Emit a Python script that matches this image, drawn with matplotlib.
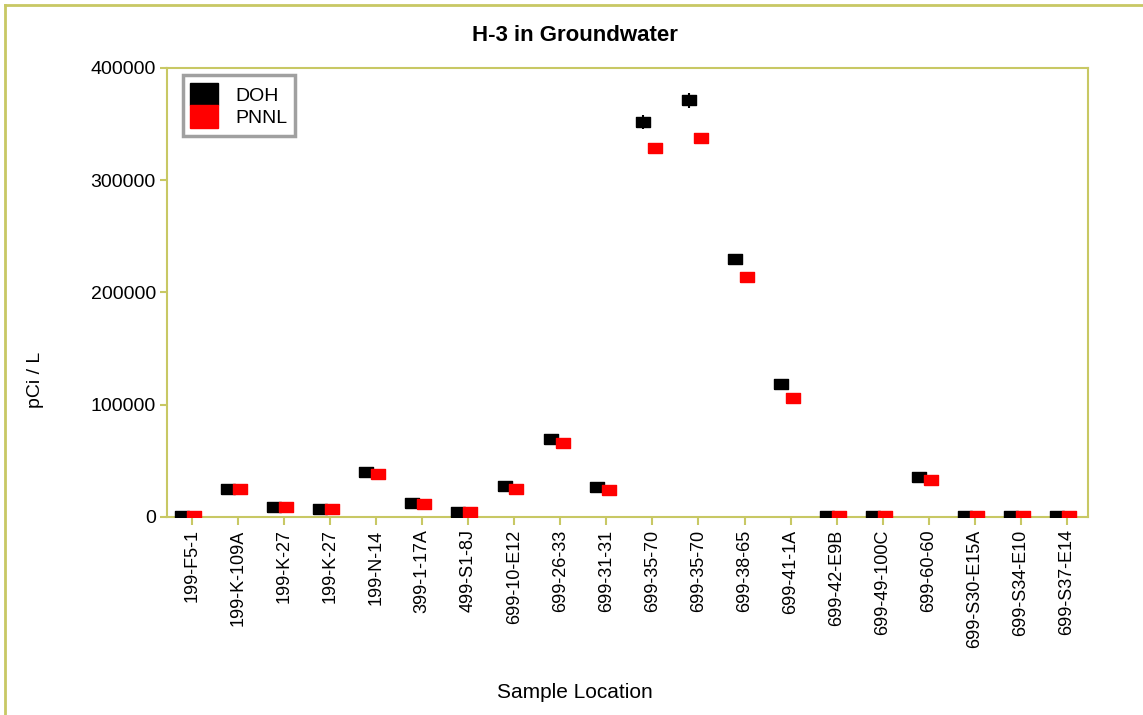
import numpy as np
import matplotlib.pyplot as plt
from matplotlib.lines import Line2D
from matplotlib.patches import Patch

plt.rcParams['font.family'] = ['Liberation Sans', 'DejaVu Sans']

# Datos
ubicaciones = ['199-F5-1', '199-K-109A', '199-K-27', '199-K-27', '199-N-14',
               '399-1-17A', '499-S1-8J', '699-10-E12', '699-26-33', '699-31-31',
               '699-35-70', '699-35-70', '699-38-65', '699-41-1A', '699-42-E9B',
               '699-49-100C', '699-60-60', '699-S30-E15A', '699-S34-E10', '699-S37-E14']
doh = [500, 24500, 9000, 7000, 40000, 12500, 4500, 28000, 69000, 27000,
       352000, 371000, 229500, 118000, 500, 500, 35700, 500, 500, 500]
pnnl = [500, 24500, 9000, 7000, 38000, 11500, 4000, 25000, 66000, 24000,
        329000, 338000, 214000, 106000, 500, 500, 33000, 500, 500, 500]
doh_err = [300, 1500, 800, 700, 1500, 1000, 500, 1500, 2000, 1500,
           6000, 6500, 4000, 3000, 300, 300, 1500, 300, 300, 300]
pnnl_err = [300, 1200, 700, 600, 1200, 800, 400, 1200, 1500, 1200,
            3500, 3500, 3000, 2000, 300, 300, 1200, 300, 300, 300]

oliva = '#c8c864'
x = np.arange(len(ubicaciones))

# marcador rectangular (más ancho que alto)
rect = [(-1, -0.78), (1, -0.78), (1, 0.78), (-1, 0.78), (-1, -0.78)]

fig = plt.figure(figsize=(11.43, 7.15), dpi=100)
ax = fig.add_axes([0.146, 0.277, 0.806, 0.628])

ax.errorbar(x - 0.21, doh, yerr=doh_err, fmt='none', ecolor='black',
            elinewidth=1.5, capsize=0, zorder=2)
ax.plot(x - 0.21, doh, ls='none', marker=rect, ms=9.5, color='black', zorder=3)
ax.errorbar(x + 0.05, pnnl, yerr=pnnl_err, fmt='none', ecolor='red',
            elinewidth=1.5, capsize=0, zorder=2)
ax.plot(x + 0.05, pnnl, ls='none', marker=rect, ms=9.5, color='red', zorder=3)

ax.set_xlim(-0.54, len(ubicaciones) - 0.54)
ax.set_ylim(0, 400000)
ax.set_yticks([0, 100000, 200000, 300000, 400000])
ax.set_yticklabels(['0', '100000', '200000', '300000', '400000'])
ax.set_xticks(x)
ax.set_xticklabels(ubicaciones, rotation=90, fontsize=13)
ax.tick_params(axis='y', labelsize=14, pad=3, length=5)
ax.tick_params(axis='x', pad=3, length=6)
ax.tick_params(color=oliva, width=1.5)
for s in ax.spines.values():
    s.set_color(oliva)
    s.set_linewidth(1.5)

fig.text(0.503, 0.951, 'H-3 in Groundwater', fontsize=16, fontweight='bold',
         ha='center', va='center')
fig.text(0.031, 1 - 380 / 715, 'pCi / L', fontsize=14, rotation=90,
         ha='center', va='center')
fig.text(0.503, 1 - 692 / 715, 'Sample Location', fontsize=15,
         ha='center', va='center')

handles = [Patch(facecolor='black', edgecolor='black'),
           Patch(facecolor='red', edgecolor='red')]
leg = ax.legend(handles, ['DOH', 'PNNL'], loc='upper left', fontsize=14,
                fancybox=False, edgecolor='#a0a0a0', framealpha=1,
                handlelength=1.4, handleheight=1.4, borderpad=0.4,
                labelspacing=0.0, handletextpad=0.9, borderaxespad=0,
                bbox_to_anchor=(0.017, 0.984))
leg.get_frame().set_linewidth(2.5)

# Borde de la figura
fig.add_artist(Line2D([5 / 1143, 5 / 1143], [0, 1 - 5 / 715], color=oliva, lw=2))
fig.add_artist(Line2D([5 / 1143, 1], [1 - 5 / 715, 1 - 5 / 715], color=oliva, lw=2))

fig.savefig('out.png', dpi=100)
